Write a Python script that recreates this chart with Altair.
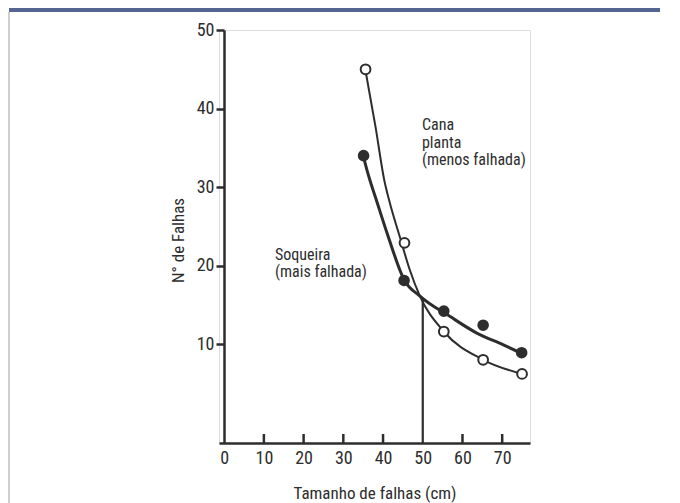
import altair as alt
import pandas as pd

FONT = "Roboto Condensed, Liberation Sans Narrow, Roboto, sans-serif"
INK = "#2d2d2d"

x_ticks = [0, 10, 20, 30, 40, 50, 60, 70]
y_ticks = [10, 20, 30, 40, 50]
inner_ticks = [10, 20, 30, 40, 60, 70]

# Measured points
cana_x = [35.6, 45.4, 55.3, 65.2, 75.0]
cana_y = [45.0, 22.9, 11.6, 8.0, 6.2]
soq_x = [35.1, 45.3, 55.3, 65.2, 74.9]
soq_y = [34.0, 18.1, 14.2, 12.4, 8.9]

# Fitted curves
cana_curve_x = [35.7, 38.1, 40.3, 41.7, 44.2, 46.7, 49.2, 55.3, 65.2, 75.0]
cana_curve_y = [44.5, 37.7, 30.9, 28.0, 23.7, 19.5, 16.2, 11.6, 8.0, 6.2]
soq_curve_x = [35.2, 36.1, 38.6, 41.3, 45.3, 49.3, 56.9, 63.6, 70.3, 74.9]
soq_curve_y = [33.6, 31.9, 27.9, 23.7, 18.2, 16.1, 13.5, 11.4, 9.9, 8.8]

vline_x = [50]
vline_y = [-2.6]
vline_y2 = [15.8]

ann_text = ["Cana", "planta", "(menos falhada)", "Soqueira", "(mais falhada)"]
ann_x = [49.8, 49.8, 49.8, 12.8, 12.8]
ann_y = [37.26, 35.0, 32.75, 20.75, 18.55]

XD = [-1.3, 77]
YD = [-2.6, 50]

xs = alt.Scale(domain=XD, nice=False, zero=False)
ys = alt.Scale(domain=YD, nice=False, zero=False)

one = pd.DataFrame({"a": [0]})

border = alt.Chart(one).mark_rect(color="#cfcfcf").encode(
    x=alt.value(-211), x2=alt.value(-209), y=alt.value(-18), y2=alt.value(480)
)
banner = alt.Chart(one).mark_rect(color="#536590").encode(
    x=alt.value(-210), x2=alt.value(470), y=alt.value(-30), y2=alt.value(-18)
)

base_axes = alt.Chart(pd.DataFrame({"x": [0], "y": [0]})).mark_point(opacity=0).encode(
    x=alt.X("x:Q", scale=xs, axis=alt.Axis(
        values=x_ticks, ticks=False, grid=False, title="Tamanho de falhas (cm)",
        domainColor=INK, domainWidth=2.5, labelColor=INK, labelFontSize=18,
        labelFont=FONT, labelPadding=6, titleFont=FONT, titleFontSize=17,
        titleFontWeight="normal", titleColor=INK, titleBaseline="alphabetic",
        titleY=55, format="d")),
    y=alt.Y("y:Q", scale=ys, axis=alt.Axis(
        values=y_ticks, grid=False, title="N° de Falhas", offset=-5,
        domainColor=INK, domainWidth=2.5, tickColor=INK, tickWidth=2.5, tickSize=8,
        labelColor=INK, labelFontSize=18, labelFont=FONT, labelPadding=2,
        titleFont=FONT, titleFontSize=17, titleFontWeight="normal", titleColor=INK,
        titleBaseline="middle", titleX=-46, titleY=210, format="d")),
)

itk = alt.Chart(pd.DataFrame({"x": inner_ticks})).mark_rule(color=INK, strokeWidth=2.5).encode(
    x=alt.X("x:Q", scale=xs), y=alt.datum(-2.6), y2=alt.datum(-1.45)
)

vline = alt.Chart(pd.DataFrame({"x": vline_x, "y": vline_y, "y2": vline_y2})).mark_rule(
    color=INK, strokeWidth=2.2).encode(
    x=alt.X("x:Q", scale=xs), y=alt.Y("y:Q", scale=ys), y2="y2:Q"
)

cana_curve = alt.Chart(pd.DataFrame({"x": cana_curve_x, "y": cana_curve_y})).mark_line(
    color=INK, strokeWidth=2, interpolate="monotone").encode(
    x=alt.X("x:Q", scale=xs), y=alt.Y("y:Q", scale=ys), order="x:Q"
)
soq_curve = alt.Chart(pd.DataFrame({"x": soq_curve_x, "y": soq_curve_y})).mark_line(
    color=INK, strokeWidth=3, interpolate="monotone").encode(
    x=alt.X("x:Q", scale=xs), y=alt.Y("y:Q", scale=ys), order="x:Q"
)

cana_pts = alt.Chart(pd.DataFrame({"x": cana_x, "y": cana_y})).mark_point(
    shape="circle", filled=True, fill="white", stroke=INK, strokeWidth=2, size=95, opacity=1).encode(
    x=alt.X("x:Q", scale=xs), y=alt.Y("y:Q", scale=ys)
)
soq_pts = alt.Chart(pd.DataFrame({"x": soq_x, "y": soq_y})).mark_point(
    shape="circle", filled=True, color=INK, size=135, opacity=1).encode(
    x=alt.X("x:Q", scale=xs), y=alt.Y("y:Q", scale=ys)
)

texts = alt.Chart(pd.DataFrame({"t": ann_text, "x": ann_x, "y": ann_y})).mark_text(
    align="left", baseline="alphabetic", font=FONT, fontSize=16, color=INK).encode(
    x=alt.X("x:Q", scale=xs), y=alt.Y("y:Q", scale=ys), text="t:N"
)

chart = alt.layer(
    border, banner, base_axes, itk, vline, cana_curve, soq_curve, cana_pts, soq_pts, texts
).properties(
    width=311, height=413,
    autosize=alt.AutoSizeParams(type="none"),
    padding={"left": 211, "top": 22, "right": 130, "bottom": 60},
).configure_view(stroke=None).configure(background="white")

chart.save("out.html", embed_options={"renderer": "svg", "actions": False})
